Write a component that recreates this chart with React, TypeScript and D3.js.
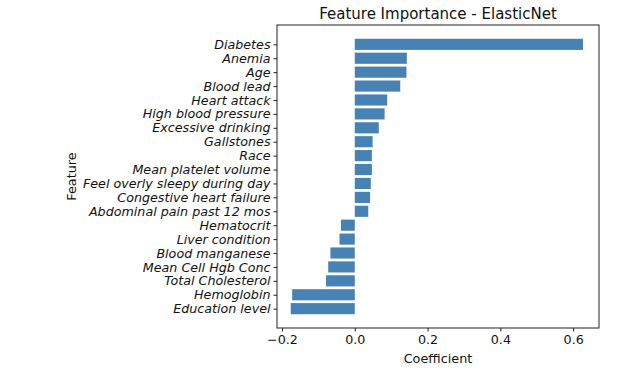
import React, {useEffect, useRef} from 'react';
import * as d3 from 'd3';

// data, top to bottom
const features = [
    'Diabetes', 'Anemia', 'Age', 'Blood lead', 'Heart attack', 'High blood pressure',
    'Excessive drinking', 'Gallstones', 'Race', 'Mean platelet volume',
    'Feel overly sleepy during day', 'Congestive heart failure', 'Abdominal pain past 12 mos',
    'Hematocrit', 'Liver condition', 'Blood manganese', 'Mean Cell Hgb Conc',
    'Total Cholesterol', 'Hemoglobin', 'Education level',
];
const coefficients = [
    0.627, 0.143, 0.142, 0.125, 0.089, 0.082,
    0.066, 0.049, 0.047, 0.047,
    0.044, 0.042, 0.037,
    -0.038, -0.042, -0.067, -0.073,
    -0.079, -0.172, -0.176,
];
const xTicks = [-0.2, 0.0, 0.2, 0.4, 0.6];

function App() {
    const svgRef = useRef<SVGSVGElement>(null);
    const width = 643;
    const height = 382;

    useEffect(() => {
        const svg = d3.select(svgRef.current);
        svg.selectAll('*').remove();

        const margin = {top: 25, right: 44, bottom: 54, left: 277};
        const font = 'DejaVu Sans, sans-serif';
        const n = features.length;

        const xScale = d3.scaleLinear()
            .domain([-0.2137, 0.671])
            .range([margin.left, width - margin.right]);

        // matplotlib style: bars at integer positions, 5% margin on each side
        const pad = (n - 1 + 0.8) * 0.05;
        const yScale = d3.scaleLinear()
            .domain([-0.4 - pad, n - 1 + 0.4 + pad])
            .range([margin.top, height - margin.bottom]);
        const barH = yScale(0.8) - yScale(0);

        svg.append('g')
            .selectAll('rect')
            .data(coefficients)
            .join('rect')
            .attr('x', d => xScale(Math.min(0, d)))
            .attr('y', (d, i) => yScale(i) - barH / 2)
            .attr('width', d => Math.abs(xScale(d) - xScale(0)))
            .attr('height', barH)
            .attr('fill', '#4682b4');

        // frame
        svg.append('rect')
            .attr('x', margin.left)
            .attr('y', margin.top)
            .attr('width', width - margin.left - margin.right)
            .attr('height', height - margin.top - margin.bottom)
            .attr('fill', 'none')
            .attr('stroke', '#222')
            .attr('stroke-width', 1);

        const xAxis = svg.append('g')
            .attr('transform', `translate(0, ${height - margin.bottom})`)
            .call(d3.axisBottom(xScale)
                .tickValues(xTicks)
                .tickSize(3.5)
                .tickPadding(3)
                .tickFormat(d => (+d < 0 ? '\u2212' : '') + Math.abs(+d).toFixed(1)));
        xAxis.select('.domain').remove();

        const yAxis = svg.append('g')
            .attr('transform', `translate(${margin.left}, 0)`)
            .call(d3.axisLeft(yScale)
                .tickValues(d3.range(n))
                .tickSize(3.5)
                .tickPadding(3)
                .tickFormat((d, i) => features[i]));
        yAxis.select('.domain').remove();
        yAxis.selectAll('text').style('font-style', 'italic');

        svg.selectAll('.tick text')
            .style('font-family', font)
            .style('font-size', '12.7px')
            .attr('fill', '#111');
        svg.selectAll('.tick line').attr('stroke', '#222');

        svg.append('text')
            .attr('x', (margin.left + width - margin.right) / 2)
            .attr('y', 19)
            .attr('text-anchor', 'middle')
            .style('font-family', font)
            .style('font-size', '15px')
            .attr('fill', '#111')
            .text('Feature Importance - ElasticNet');

        svg.append('text')
            .attr('x', (margin.left + width - margin.right) / 2)
            .attr('y', 363)
            .attr('text-anchor', 'middle')
            .style('font-family', font)
            .style('font-size', '12.8px')
            .attr('fill', '#111')
            .text('Coefficient');

        svg.append('text')
            .attr('transform', `translate(76, ${(margin.top + height - margin.bottom) / 2}) rotate(-90)`)
            .attr('text-anchor', 'middle')
            .style('font-family', font)
            .style('font-size', '12.8px')
            .attr('fill', '#111')
            .text('Feature');
    }, []);

    return <svg ref={svgRef} width={width} height={height}
                style={{position: 'absolute', left: 0, top: 0, background: '#fff'}}/>;
}

export default App;
